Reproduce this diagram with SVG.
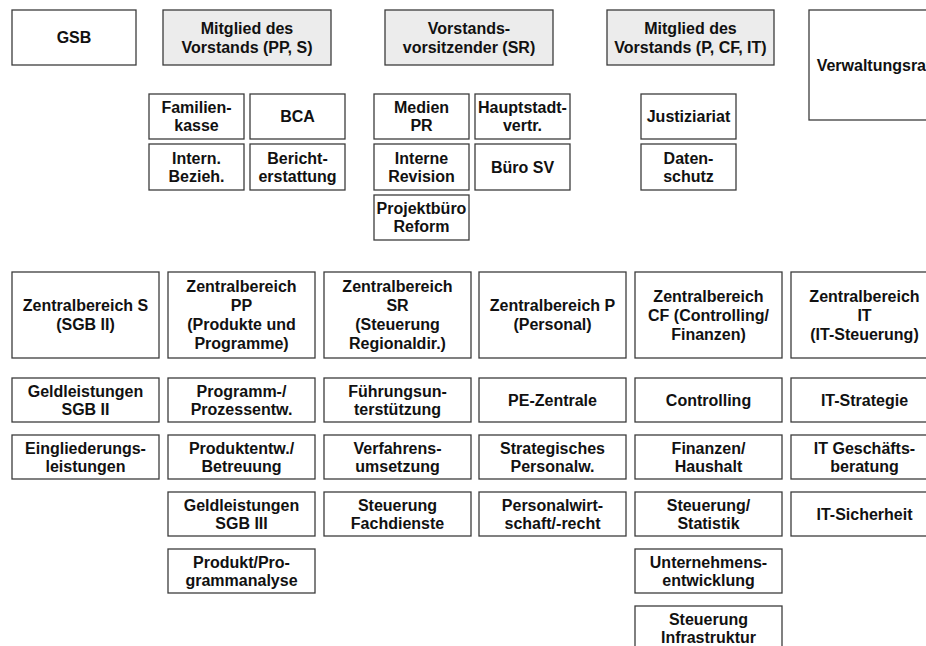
<svg xmlns="http://www.w3.org/2000/svg" width="926" height="646" viewBox="0 0 926 646">
<style>
.b{fill:#ffffff;stroke:#3c3c3c;stroke-width:1.3}
.g{fill:#ececec;stroke:#3c3c3c;stroke-width:1.3}
text{font-family:"Liberation Sans",Arial,Helvetica,sans-serif;font-weight:bold;font-size:16px;fill:#111;text-anchor:middle}
</style>
<rect x="0" y="0" width="926" height="646" fill="#ffffff"/>
<g id="connectors"/>
<!-- top row -->
<g id="gsb"><rect class="b" x="12" y="10" width="124" height="55"/><text x="74" y="43">GSB</text></g>
<g id="vorstand-pp-s"><rect class="g" x="163" y="10" width="168" height="55"/><text x="247" y="33.5">Mitglied des</text><text x="247" y="52.5">Vorstands (PP, S)</text></g>
<g id="vorstandsvorsitzender"><rect class="g" x="385" y="10" width="168" height="55"/><text x="469" y="33.5">Vorstands-</text><text x="469" y="52.5">vorsitzender (SR)</text></g>
<g id="vorstand-p-cf-it"><rect class="g" x="607" y="10" width="167" height="55"/><text x="690.5" y="33.5">Mitglied des</text><text x="690.5" y="52.5">Vorstands (P, CF, IT)</text></g>
<g id="verwaltungsrat"><rect class="b" x="809" y="10" width="130" height="110"/><text x="874" y="70.5">Verwaltungsrat</text></g>
<!-- staff units -->
<g id="familienkasse"><rect class="b" x="149" y="94" width="95" height="45"/><text x="196.5" y="113">Familien-</text><text x="196.5" y="131">kasse</text></g>
<g id="bca"><rect class="b" x="250" y="94" width="95" height="45"/><text x="297.5" y="122">BCA</text></g>
<g id="intern-bezieh"><rect class="b" x="149" y="144" width="95" height="46"/><text x="196.5" y="163.5">Intern.</text><text x="196.5" y="181.5">Bezieh.</text></g>
<g id="berichterstattung"><rect class="b" x="250" y="144" width="95" height="46"/><text x="297.5" y="163.5">Bericht-</text><text x="297.5" y="181.5">erstattung</text></g>
<g id="medien-pr"><rect class="b" x="374" y="94" width="95" height="45"/><text x="421.5" y="113">Medien</text><text x="421.5" y="131">PR</text></g>
<g id="hauptstadtvertr"><rect class="b" x="475" y="94" width="95" height="45"/><text x="522.5" y="113">Hauptstadt-</text><text x="522.5" y="131">vertr.</text></g>
<g id="interne-revision"><rect class="b" x="374" y="144" width="95" height="46"/><text x="421.5" y="163.5">Interne</text><text x="421.5" y="181.5">Revision</text></g>
<g id="buero-sv"><rect class="b" x="475" y="144" width="95" height="46"/><text x="522.5" y="172.5">Büro SV</text></g>
<g id="projektbuero-reform"><rect class="b" x="374" y="195" width="95" height="45"/><text x="421.5" y="214">Projektbüro</text><text x="421.5" y="232">Reform</text></g>
<g id="justiziariat"><rect class="b" x="641" y="94" width="95" height="45"/><text x="688.5" y="122">Justiziariat</text></g>
<g id="datenschutz"><rect class="b" x="641" y="144" width="95" height="46"/><text x="688.5" y="163.5">Daten-</text><text x="688.5" y="181.5">schutz</text></g>
<!-- Zentralbereiche -->
<g id="zb-s"><rect class="b" x="12" y="272" width="147" height="86"/><text x="85.5" y="311">Zentralbereich S</text><text x="85.5" y="330">(SGB II)</text></g>
<g id="zb-pp"><rect class="b" x="168" y="272" width="147" height="86"/><text x="241.5" y="292">Zentralbereich</text><text x="241.5" y="311">PP</text><text x="241.5" y="330">(Produkte und</text><text x="241.5" y="349">Programme)</text></g>
<g id="zb-sr"><rect class="b" x="324" y="272" width="147" height="86"/><text x="397.5" y="292">Zentralbereich</text><text x="397.5" y="311">SR</text><text x="397.5" y="330">(Steuerung</text><text x="397.5" y="349">Regionaldir.)</text></g>
<g id="zb-p"><rect class="b" x="479" y="272" width="147" height="86"/><text x="552.5" y="311">Zentralbereich P</text><text x="552.5" y="330">(Personal)</text></g>
<g id="zb-cf"><rect class="b" x="635" y="272" width="147" height="86"/><text x="708.5" y="301.5">Zentralbereich</text><text x="708.5" y="320.5">CF (Controlling/</text><text x="708.5" y="339.5">Finanzen)</text></g>
<g id="zb-it"><rect class="b" x="791" y="272" width="147" height="86"/><text x="864.5" y="301.5">Zentralbereich</text><text x="864.5" y="320.5">IT</text><text x="864.5" y="339.5">(IT-Steuerung)</text></g>
<!-- S column -->
<g id="geldleistungen-sgb2"><rect class="b" x="12" y="378" width="147" height="44"/><text x="85.5" y="396.5">Geldleistungen</text><text x="85.5" y="415">SGB II</text></g>
<g id="eingliederungsleistungen"><rect class="b" x="12" y="435" width="147" height="44"/><text x="85.5" y="453.5">Eingliederungs-</text><text x="85.5" y="472">leistungen</text></g>
<!-- PP column -->
<g id="programm-prozessentw"><rect class="b" x="168" y="378" width="147" height="44"/><text x="241.5" y="396.5">Programm-/</text><text x="241.5" y="415">Prozessentw.</text></g>
<g id="produktentw-betreuung"><rect class="b" x="168" y="435" width="147" height="44"/><text x="241.5" y="453.5">Produktentw./</text><text x="241.5" y="472">Betreuung</text></g>
<g id="geldleistungen-sgb3"><rect class="b" x="168" y="492" width="147" height="44"/><text x="241.5" y="510.5">Geldleistungen</text><text x="241.5" y="529">SGB III</text></g>
<g id="produkt-programmanalyse"><rect class="b" x="168" y="549" width="147" height="44"/><text x="241.5" y="567.5">Produkt/Pro-</text><text x="241.5" y="586">grammanalyse</text></g>
<!-- SR column -->
<g id="fuehrungsunterstuetzung"><rect class="b" x="324" y="378" width="147" height="44"/><text x="397.5" y="396.5">Führungsun-</text><text x="397.5" y="415">terstützung</text></g>
<g id="verfahrensumsetzung"><rect class="b" x="324" y="435" width="147" height="44"/><text x="397.5" y="453.5">Verfahrens-</text><text x="397.5" y="472">umsetzung</text></g>
<g id="steuerung-fachdienste"><rect class="b" x="324" y="492" width="147" height="44"/><text x="397.5" y="510.5">Steuerung</text><text x="397.5" y="529">Fachdienste</text></g>
<!-- P column -->
<g id="pe-zentrale"><rect class="b" x="479" y="378" width="147" height="44"/><text x="552.5" y="405.5">PE-Zentrale</text></g>
<g id="strategisches-personalw"><rect class="b" x="479" y="435" width="147" height="44"/><text x="552.5" y="453.5">Strategisches</text><text x="552.5" y="472">Personalw.</text></g>
<g id="personalwirtschaft"><rect class="b" x="479" y="492" width="147" height="44"/><text x="552.5" y="510.5">Personalwirt-</text><text x="552.5" y="529">schaft/-recht</text></g>
<!-- CF column -->
<g id="controlling"><rect class="b" x="635" y="378" width="147" height="44"/><text x="708.5" y="405.5">Controlling</text></g>
<g id="finanzen-haushalt"><rect class="b" x="635" y="435" width="147" height="44"/><text x="708.5" y="453.5">Finanzen/</text><text x="708.5" y="472">Haushalt</text></g>
<g id="steuerung-statistik"><rect class="b" x="635" y="492" width="147" height="44"/><text x="708.5" y="510.5">Steuerung/</text><text x="708.5" y="529">Statistik</text></g>
<g id="unternehmensentwicklung"><rect class="b" x="635" y="549" width="147" height="44"/><text x="708.5" y="567.5">Unternehmens-</text><text x="708.5" y="586">entwicklung</text></g>
<g id="steuerung-infrastruktur"><rect class="b" x="635" y="606" width="147" height="44"/><text x="708.5" y="624.5">Steuerung</text><text x="708.5" y="643">Infrastruktur</text></g>
<!-- IT column -->
<g id="it-strategie"><rect class="b" x="791" y="378" width="147" height="44"/><text x="864.5" y="405.5">IT-Strategie</text></g>
<g id="it-geschaeftsberatung"><rect class="b" x="791" y="435" width="147" height="44"/><text x="864.5" y="453.5">IT Geschäfts-</text><text x="864.5" y="472">beratung</text></g>
<g id="it-sicherheit"><rect class="b" x="791" y="492" width="147" height="44"/><text x="864.5" y="519.5">IT-Sicherheit</text></g>
</svg>
